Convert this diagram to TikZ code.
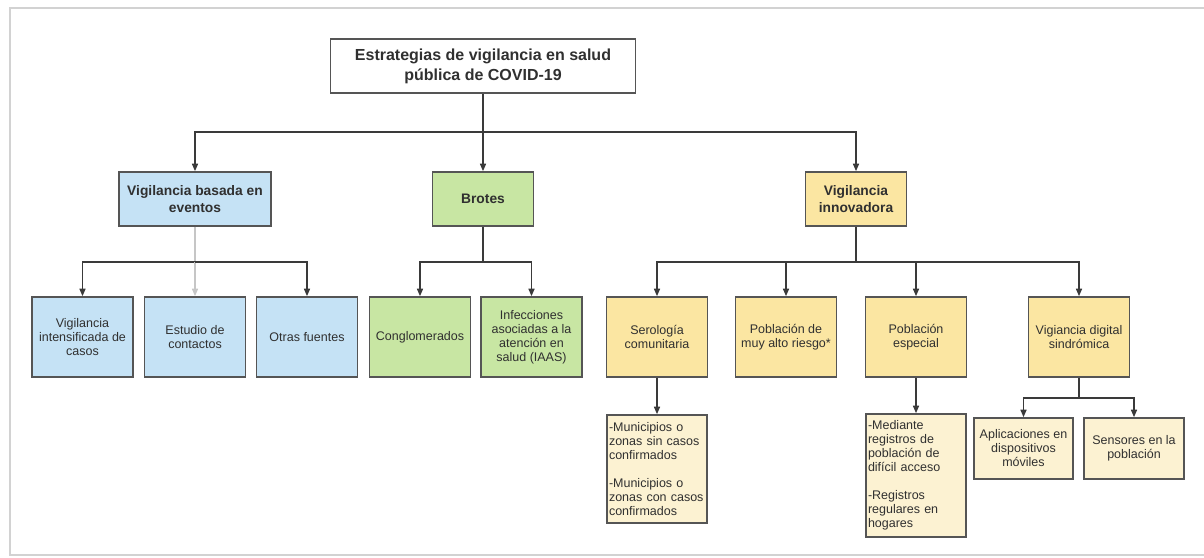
\documentclass[tikz,border=0pt]{standalone}
\usepackage{fontspec}
\setmainfont{Liberation Sans}
\usepackage{xcolor}
\usetikzlibrary{arrows.meta}
\definecolor{borde}{HTML}{555555}
\definecolor{linea}{HTML}{3A3A3A}
\definecolor{texto}{HTML}{303030}
\definecolor{cajaazul}{HTML}{C5E2F5}
\definecolor{cajaverde}{HTML}{C8E6A3}
\definecolor{cajaamarilla}{HTML}{FBE6A2}
\definecolor{cajacrema}{HTML}{FCF2D2}
\definecolor{marco}{HTML}{D2D2D2}

\begin{document}
\begin{tikzpicture}[x=1pt, y=-1pt,
  >={Triangle[width=6pt,length=7.5pt]},
  caja/.style={draw=borde, line width=1.6pt, inner sep=0pt, align=center, text=texto},
  raiz/.style={caja, fill=white, minimum width=305pt, minimum height=54pt,
    font=\bfseries\fontsize{16}{20}\selectfont},
  nivel1/.style={caja, minimum height=54pt, font=\bfseries\fontsize{13.8}{16.5}\selectfont},
  nivel2/.style={caja, minimum width=101pt, minimum height=80pt, font=\fontsize{12.5}{14}\selectfont},
  detalle/.style={caja, fill=cajacrema, align=left, text width=96pt, inner sep=2pt,
    font=\fontsize{12.5}{14}\selectfont},
  conector/.style={draw=linea, line width=1.5pt},
  flecha/.style={conector, ->},
]
  \useasboundingbox (0,0) rectangle (1204,557);
  % Marco
  \draw[marco, line width=1.6pt] (1204,8) -- (10,8) -- (10,555) -- (1204,555);

  % Raiz
  \node[raiz] (raiz) at (483,66) {Estrategias de vigilancia en salud\\pública de COVID-19};

  % Primer nivel
  \node[nivel1, fill=cajaazul, minimum width=152pt] (eventos) at (195,199) {Vigilancia basada en\\eventos};
  \node[nivel1, fill=cajaverde, minimum width=101pt] (brotes) at (483,199) {Brotes};
  \node[nivel1, fill=cajaamarilla, minimum width=101pt] (innov) at (856,199) {Vigilancia\\innovadora};

  % Segundo nivel
  \node[nivel2, fill=cajaazul] (intens) at (82.5,337) {Vigilancia\\intensificada de\\casos};
  \node[nivel2, fill=cajaazul] (contactos) at (195,337) {Estudio de\\contactos};
  \node[nivel2, fill=cajaazul] (otras) at (307,337) {Otras fuentes};
  \node[nivel2, fill=cajaverde] (conglo) at (420,337) {Conglomerados};
  \node[nivel2, fill=cajaverde] (iaas) at (531.5,337) {Infecciones\\asociadas a la\\atención en\\salud (IAAS)};
  \node[nivel2, fill=cajaamarilla] (sero) at (657,337) {Serología\\comunitaria};
  \node[nivel2, fill=cajaamarilla] (riesgo) at (786,337) {Población de\\muy alto riesgo*};
  \node[nivel2, fill=cajaamarilla] (especial) at (916,337) {Población\\especial};
  \node[nivel2, fill=cajaamarilla] (digital) at (1079,337) {Vigiancia digital\\sindrómica};

  % Tercer nivel
  \node[detalle, minimum height=108pt] (serodet) at (657,469) {-Municipios o\\zonas sin casos\\confirmados\\[14pt]-Municipios o\\zonas con casos\\confirmados};
  \node[detalle, minimum height=123pt] (espdet) at (916,475.5) {-Mediante\\registros de\\población de\\difícil acceso\\[14pt]-Registros\\regulares en\\hogares};
  \node[nivel2, fill=cajacrema, minimum width=99pt, minimum height=61pt] (apps) at (1023.5,448.5) {Aplicaciones en\\dispositivos\\móviles};
  \node[nivel2, fill=cajacrema, minimum width=100pt, minimum height=61pt] (sensores) at (1134,448.5) {Sensores en la\\población};

  % Conectores
  \coordinate (b0) at (483,132);
  \coordinate (b1) at (195,262);
  \coordinate (b2) at (483,262);
  \coordinate (b3) at (856,262);
  \coordinate (b4) at (1079,398);

  \draw[conector] (raiz) -- (b0);
  \draw[flecha] (b0) -| (eventos);
  \draw[flecha] (b0) -- (brotes);
  \draw[flecha] (b0) -| (innov);

  \draw[conector, draw=gray!45] (eventos) -- (b1);
  \draw[flecha] (b1) -| (intens);
  \draw[flecha, draw=gray!45] (b1) -- (contactos);
  \draw[flecha] (b1) -| (otras);

  \draw[conector] (brotes) -- (b2);
  \draw[flecha] (b2) -| (conglo);
  \draw[flecha] (b2) -| (iaas);

  \draw[conector] (innov) -- (b3);
  \draw[flecha] (b3) -| (sero);
  \draw[flecha] (b3) -| (riesgo);
  \draw[flecha] (b3) -| (especial);
  \draw[flecha] (b3) -| (digital);

  \draw[flecha] (sero) -- (serodet);
  \draw[flecha] (especial) -- (espdet);

  \draw[conector] (digital) -- (b4);
  \draw[flecha] (b4) -| (apps);
  \draw[flecha] (b4) -| (sensores);
\end{tikzpicture}
\end{document}
